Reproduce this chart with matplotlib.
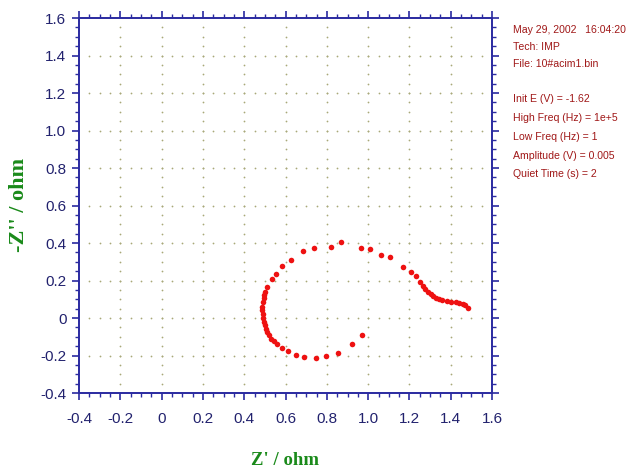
import numpy as np
import matplotlib
matplotlib.use("Agg")
import matplotlib.pyplot as plt
from matplotlib.ticker import FixedLocator, FixedFormatter, MultipleLocator

# ---- data ----
z_real = [0.971, 0.923, 0.856, 0.797, 0.747, 0.688, 0.651, 0.611, 0.581, 0.557,
          0.544, 0.531, 0.520, 0.512, 0.504, 0.499, 0.496, 0.493, 0.491, 0.488,
          0.488, 0.491, 0.494, 0.496, 0.502, 0.512, 0.533, 0.554, 0.581, 0.626,
          0.685, 0.736, 0.821, 0.867, 0.963, 1.010, 1.064, 1.108, 1.167, 1.207,
          1.233, 1.252, 1.264, 1.277, 1.289, 1.302, 1.315, 1.326, 1.343, 1.359,
          1.380, 1.400, 1.425, 1.441, 1.457, 1.470, 1.482]
z_imag = [-0.089, -0.137, -0.186, -0.203, -0.214, -0.209, -0.196, -0.178, -0.159, -0.137,
          -0.125, -0.110, -0.092, -0.075, -0.057, -0.039, -0.021, 0.000, 0.019, 0.042,
          0.060, 0.087, 0.105, 0.122, 0.140, 0.167, 0.207, 0.235, 0.275, 0.310,
          0.355, 0.373, 0.377, 0.404, 0.374, 0.370, 0.336, 0.324, 0.273, 0.245,
          0.222, 0.191, 0.173, 0.155, 0.140, 0.127, 0.118, 0.109, 0.100, 0.096,
          0.091, 0.087, 0.085, 0.082, 0.076, 0.067, 0.055]

tick_values = [-0.4, -0.2, 0.0, 0.2, 0.4, 0.6, 0.8, 1.0, 1.2, 1.4, 1.6]
tick_labels = ["-0.4", "-0.2", "0", "0.2", "0.4", "0.6", "0.8", "1.0", "1.2", "1.4", "1.6"]

info_lines = ["May 29, 2002   16:04:20", "Tech: IMP", "File: 10#acim1.bin", "",
              "Init E (V) = -1.62", "High Freq (Hz) = 1e+5", "Low Freq (Hz) = 1",
              "Amplitude (V) = 0.005", "Quiet Time (s) = 2"]

x_label = "Z' / ohm"
y_label = "-Z'' / ohm"

# ---- styling ----
sans = ['Liberation Sans', 'DejaVu Sans']
serif_bold = ['Liberation Serif', 'DejaVu Serif']
axis_blue = '#2a2aa0'
label_blue = '#22226e'
green = '#1a8a1a'
dark_red = '#a01818'
dot_col = '#a8a878'

fig = plt.figure(figsize=(6.35, 4.70), dpi=100)
ax = fig.add_axes([0.1244, 0.1638, 0.6506, 0.7979])

lo, hi = tick_values[0], tick_values[-1]
ax.set_xlim(lo, hi)
ax.set_ylim(lo, hi)

# dotted grid: dots at minor steps along each major line
minor = np.arange(lo, hi + 1e-9, 0.05)
inner_major = [v for v in tick_values if lo < v < hi]
inner_minor = [m for m in minor if lo + 1e-9 < m < hi - 1e-9]
gx, gy = [], []
for v in inner_major:
    for m in inner_minor:
        gx.append(v); gy.append(m)
        gx.append(m); gy.append(v)
ax.scatter(gx, gy, s=1.6, color=dot_col, linewidths=0, zorder=1)

# data
ax.plot(z_real, z_imag, linestyle='none', marker='o', markersize=4.0,
        color='#ee1111', markeredgewidth=0, zorder=3)

# spines & ticks
for sp in ax.spines.values():
    sp.set_color(axis_blue)
    sp.set_linewidth(1.4)
ax.xaxis.set_major_locator(FixedLocator(tick_values))
ax.yaxis.set_major_locator(FixedLocator(tick_values))
ax.xaxis.set_major_formatter(FixedFormatter(tick_labels))
ax.yaxis.set_major_formatter(FixedFormatter(tick_labels))
ax.xaxis.set_minor_locator(MultipleLocator(0.05))
ax.yaxis.set_minor_locator(MultipleLocator(0.05))
ax.tick_params(which='both', direction='out', color=axis_blue,
               top=True, right=True, labeltop=False, labelright=False)
ax.tick_params(which='major', length=5, width=1.2, labelsize=11,
               labelcolor=label_blue)
ax.tick_params(axis='x', which='major', pad=9)
ax.tick_params(axis='y', which='major', pad=4)
ax.tick_params(which='minor', length=3, width=1.0)
for lab in ax.get_xticklabels() + ax.get_yticklabels():
    lab.set_family(sans)

ax.set_xlabel(x_label, family=serif_bold, fontweight='bold', fontsize=13.5,
              color=green, va='center')
ax.set_ylabel(y_label, family=serif_bold, fontweight='bold', fontsize=16,
              color=green, va='center')
ax.xaxis.set_label_coords((285 - 79) / 413, (393 - 460) / 375)
ax.yaxis.set_label_coords((19 - 79) / 413, (393 - 205) / 375)

# info block
y0 = 1 - 30 / 470
step_top = 16.8 / 470
step_bot = 18.8 / 470
ypos = y0
for i, line in enumerate(info_lines):
    if line:
        fig.text(513 / 635, ypos, line, family=sans, fontsize=7.6,
                 color=dark_red, va='center', ha='left')
    ypos -= step_top if i < 3 else step_bot

fig.savefig('out.png', dpi=100, facecolor='white')
